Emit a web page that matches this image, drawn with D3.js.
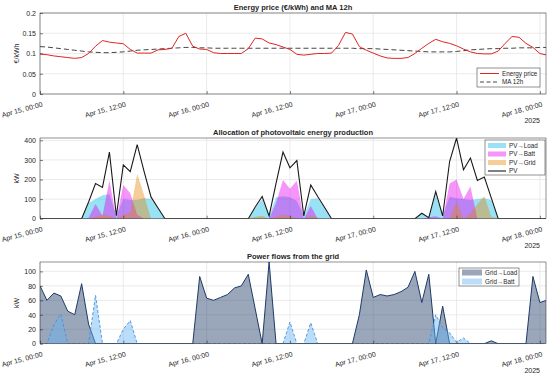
<!DOCTYPE html>
<html lang="en">
<head>
<meta charset="utf-8">
<title>Energy price, PV allocation and grid flows</title>
<script src="https://cdn.jsdelivr.net/npm/d3@7"></script>
<style>
  body { margin: 0; background: #fff; }
  svg text { font-family: "Liberation Sans", Arial, sans-serif; fill: #262626; }
</style>
</head>
<body>
<div id="chart"></div>
<script>
// hourly samples, index 0 = Apr 15 2025 00:00
var price = [.099,.097,.094,.092,.090,.088,.090,.100,.118,.132,.128,.126,.124,.110,.101,.101,.101,.109,.110,.113,
             .142,.150,.118,.111,.110,.102,.100,.100,.100,.100,.112,.138,.136,.126,.122,.116,.110,.098,.096,.098,
             .100,.100,.101,.120,.152,.148,.117,.108,.101,.094,.089,.088,.088,.090,.100,.113,.125,.135,.129,.125,
             .119,.111,.104,.100,.099,.099,.106,.125,.142,.140,.125,.115,.100,.096];
var ma12 = [.117,.116,.114,.112,.110,.108,.106,.104,.103,.102,.102,.103,.104,.106,.108,.109,.110,.111,.112,.113,
            .114,.115,.115,.114,.114,.113,.113,.113,.113,.113,.113,.113,.113,.113,.113,.113,.113,.113,.113,.113,
            .113,.113,.113,.113,.113,.113,.112,.112,.112,.111,.110,.109,.108,.107,.106,.105,.104,.104,.104,.104,
            .105,.107,.109,.110,.111,.112,.112,.113,.113,.114,.114,.114,.115,.115];

var pv = [0,0,0,0,0,0,0,85,180,160,340,15,275,240,378,240,110,55,0,0,
          0,0,0,0,0,0,0,0,0,0,0,60,113,14,180,340,260,297,14,172,
          113,57,0,0,0,0,0,0,0,0,0,0,0,0,0,28,5,138,14,292,
          412,250,310,195,213,106,0,0,0,0,0,0,0,0];
var pvLoad = [0,0,0,0,0,0,0,80,100,120,125,15,100,95,95,105,100,55,0,0,
              0,0,0,0,0,0,0,0,0,0,0,55,100,14,110,115,110,90,14,100,
              105,55,0,0,0,0,0,0,0,0,0,0,0,0,0,28,5,125,14,112,
              105,100,96,100,105,95,0,0,0,0,0,0,0,0];
var pvBatt = [0,0,0,0,0,0,0,5,75,15,195,0,172,130,20,0,0,0,0,0,
              0,0,0,0,0,0,0,0,0,0,0,0,0,0,80,198,153,194,0,65,
              0,0,0,0,0,0,0,0,0,0,0,0,0,0,0,0,8,12,0,180,
              200,100,165,0,0,0,0,0,0,0,0,0,0,0];
var pvGrid = [0,0,0,0,0,0,0,0,10,20,15,0,20,30,230,120,0,0,0,0,
              0,0,0,0,0,0,0,0,0,0,0,10,15,0,10,20,15,0,0,15,
              5,0,0,0,0,0,0,0,0,0,0,0,0,0,0,0,0,0,0,0,
              85,0,25,75,115,10,0,0,0,0,0,0,0,0];

var gridLoad = [80,60,70,66,45,40,83,27,0,0,0,0,0,0,0,0,0,0,0,0,
                0,0,0,93,63,60,64,68,77,80,96,48,0,113,0,0,0,0,0,0,
                0,0,0,0,0,0,40,102,64,68,66,68,72,78,100,57,96,0,52,0,
                0,0,0,0,0,4,0,0,0,0,0,93,57,60];
var gridBatt = [0,0,26,41,0,0,0,0,67,0,0,0,20,32,0,0,0,0,0,0,
                0,0,0,0,0,0,0,0,0,0,0,0,0,0,0,0,30,0,0,29,
                0,0,0,0,0,0,0,0,0,0,0,0,0,0,0,0,0,40,22,15,
                2,8,0,0,0,0,0,0,0,0,0,0,0,0];

var priceTicks = [0, 0.05, 0.1, 0.15, 0.2];
var pvTicks = [0, 100, 200, 300, 400];
var gridTicks = [0, 20, 40, 60, 80, 100];

var width = 550, height = 376;
var left = 40, right = 546;

var svg = d3.select("#chart").append("svg")
  .attr("width", width)
  .attr("height", height);

var t0 = new Date(2025, 3, 15, 0);
function hourDate(i) { return d3.timeHour.offset(t0, i); }

var x = d3.scaleTime()
  .domain([t0, d3.timeMinute.offset(t0, 72 * 60 + 53)])
  .range([left, right]);
var xTicks = d3.timeHour.every(12).range(t0, d3.timeMinute.offset(t0, 72 * 60 + 1));
var fmtX = d3.timeFormat("%b %d, %H:%M");

// set up one panel: grid, clip, returns y scale and a clipped group
function makePanel(id, top, bottom, yMax, yTicks) {
  var y = d3.scaleLinear().domain([0, yMax]).range([bottom, top]);
  var g = svg.append("g");
  svg.append("clipPath").attr("id", id)
    .append("rect").attr("x", left).attr("y", top)
    .attr("width", right - left).attr("height", bottom - top);

  g.selectAll(".gx").data(xTicks).enter().append("line")
    .attr("x1", function(d){ return x(d); }).attr("x2", function(d){ return x(d); })
    .attr("y1", top).attr("y2", bottom)
    .attr("stroke", "#e3e3e3").attr("stroke-width", 0.7);
  g.selectAll(".gy").data(yTicks).enter().append("line")
    .attr("x1", left).attr("x2", right)
    .attr("y1", function(d){ return y(d); }).attr("y2", function(d){ return y(d); })
    .attr("stroke", "#e3e3e3").attr("stroke-width", 0.7);

  var plot = g.append("g").attr("clip-path", "url(#" + id + ")");
  return { y: y, plot: plot, top: top, bottom: bottom, ticks: yTicks };
}

// axes, box, labels on top of the marks
function finishPanel(p, title, ylabel, yFmt) {
  var g = svg.append("g");
  var ya = g.append("g").attr("transform", "translate(" + left + ",0)")
    .call(d3.axisLeft(p.y).tickValues(p.ticks).tickSizeInner(-3).tickSizeOuter(0).tickPadding(4).tickFormat(yFmt));
  ya.select(".domain").remove();
  ya.selectAll("line").attr("stroke", "#262626").attr("stroke-width", 0.6);
  ya.selectAll("text").attr("font-size", "7px").attr("font-family", "Liberation Sans, Arial, sans-serif").attr("fill", "#262626");

  var xa = g.append("g").attr("transform", "translate(0," + p.bottom + ")")
    .call(d3.axisBottom(x).tickValues(xTicks).tickSizeInner(-3).tickSizeOuter(0).tickFormat(""));
  xa.select(".domain").remove();
  xa.selectAll("line").attr("stroke", "#262626").attr("stroke-width", 0.6);

  g.selectAll(".xl").data(xTicks).enter().append("text")
    .attr("transform", function(d){ return "translate(" + (x(d) + 3) + "," + (p.bottom + 12.5) + ") rotate(-15)"; })
    .attr("text-anchor", "end")
    .attr("font-size", "7px")
    .text(function(d){ return fmtX(d); });

  g.append("rect")
    .attr("x", left).attr("y", p.top)
    .attr("width", right - left).attr("height", p.bottom - p.top)
    .attr("fill", "none").attr("stroke", "#262626").attr("stroke-width", 0.5);

  g.append("text")
    .attr("x", (left + right) / 2).attr("y", p.top - 3)
    .attr("text-anchor", "middle")
    .attr("font-size", "7.5px").attr("font-weight", "bold")
    .text(title);

  g.append("text")
    .attr("transform", "translate(19," + ((p.top + p.bottom) / 2) + ") rotate(-90)")
    .attr("text-anchor", "middle")
    .attr("font-size", "7px")
    .text(ylabel);

  g.append("text")
    .attr("x", right - 6).attr("y", p.bottom + 29)
    .attr("text-anchor", "end")
    .attr("font-size", "7px")
    .text("2025");
}

function legend(x0, y0, w, h, items) {
  var g = svg.append("g");
  g.append("rect").attr("x", x0).attr("y", y0).attr("width", w).attr("height", h)
    .attr("fill", "#fff").attr("stroke", "#262626").attr("stroke-width", 0.5);
  items.forEach(function(it, i) {
    var cy = y0 + it.dy + i * it.step;
    if (it.kind === "line") {
      g.append("line").attr("x1", x0 + 3).attr("x2", x0 + it.sw).attr("y1", cy).attr("y2", cy)
        .attr("stroke", it.color).attr("stroke-width", it.width || 1)
        .attr("stroke-dasharray", it.dash || null);
    } else {
      g.append("rect").attr("x", x0 + 3).attr("y", cy - it.ph / 2).attr("width", it.sw - 3).attr("height", it.ph)
        .attr("fill", it.color).attr("fill-opacity", it.op)
        .attr("stroke", it.stroke || "none").attr("stroke-width", 0.6)
        .attr("stroke-dasharray", it.dash || null);
    }
    g.append("text").attr("x", x0 + it.sw + 3).attr("y", cy + 2.2)
      .attr("font-size", "6.3px").text(it.label);
  });
}

function lineGen(y) {
  return d3.line().x(function(d, i){ return x(hourDate(i)); }).y(function(d){ return y(d); });
}
function areaGen(y) {
  return d3.area().x(function(d, i){ return x(hourDate(i)); }).y0(y(0)).y1(function(d){ return y(d); });
}

// ---- panel 1: energy price
var p1 = makePanel("c1", 13, 94, 0.2, priceTicks);
p1.plot.append("path").datum(ma12)
  .attr("d", lineGen(p1.y)).attr("fill", "none")
  .attr("stroke", "#444").attr("stroke-width", 1).attr("stroke-dasharray", "5,3");
p1.plot.append("path").datum(price)
  .attr("d", lineGen(p1.y)).attr("fill", "none")
  .attr("stroke", "#e02424").attr("stroke-width", 1);
finishPanel(p1, "Energy price (\u20AC/kWh) and MA 12h", "\u20AC/kWh", d3.format("~g"));
legend(477, 68, 63, 19, [
  { kind: "line", label: "Energy price", color: "#e02424", sw: 22, dy: 5.5, step: 8.5 },
  { kind: "line", label: "MA 12h", color: "#444", dash: "4,2.5", sw: 22, dy: 5.5, step: 8.5 }
]);

// ---- panel 2: PV allocation
var p2 = makePanel("c2", 138, 218.7, d3.max(pv), pvTicks);
p2.plot.append("path").datum(pvLoad).attr("d", areaGen(p2.y))
  .attr("fill", "#00b4e6").attr("fill-opacity", 0.4);
p2.plot.append("path").datum(pvBatt).attr("d", areaGen(p2.y))
  .attr("fill", "#e600f0").attr("fill-opacity", 0.42);
p2.plot.append("path").datum(pvGrid).attr("d", areaGen(p2.y))
  .attr("fill", "#e68200").attr("fill-opacity", 0.4);
p2.plot.append("path").datum(pv).attr("d", lineGen(p2.y))
  .attr("fill", "none").attr("stroke", "#1a1a1a").attr("stroke-width", 1.1);
finishPanel(p2, "Allocation of photovoltaic energy production", "kW", d3.format("d"));
legend(485, 140, 60, 35, [
  { kind: "patch", label: "PV\u2192Load", color: "#00b4e6", op: 0.4, sw: 21, ph: 5, dy: 5.5, step: 8.5 },
  { kind: "patch", label: "PV\u2192Batt", color: "#e600f0", op: 0.42, sw: 21, ph: 5, dy: 5.5, step: 8.5 },
  { kind: "patch", label: "PV\u2192Grid", color: "#e68200", op: 0.4, sw: 21, ph: 5, dy: 5.5, step: 8.5 },
  { kind: "line", label: "PV", color: "#1a1a1a", width: 1.1, sw: 21, dy: 5.5, step: 8.5 }
]);

// ---- panel 3: grid flows
var p3 = makePanel("c3", 262, 343.7, d3.max(gridLoad), gridTicks);
p3.plot.append("path").datum(gridLoad).attr("d", areaGen(p3.y))
  .attr("fill", "#1f3a66").attr("fill-opacity", 0.45);
p3.plot.append("path").datum(gridLoad).attr("d", lineGen(p3.y))
  .attr("fill", "none").attr("stroke", "#1f3a66").attr("stroke-width", 1);
p3.plot.append("path").datum(gridBatt).attr("d", areaGen(p3.y))
  .attr("fill", "#66b4f5").attr("fill-opacity", 0.45);
p3.plot.append("path").datum(gridBatt).attr("d", lineGen(p3.y))
  .attr("fill", "none").attr("stroke", "#4a90d9").attr("stroke-width", 0.9).attr("stroke-dasharray", "3,2");
finishPanel(p3, "Power flows from the grid", "kW", d3.format("d"));
legend(459, 268, 60, 18, [
  { kind: "patch", label: "Grid\u2192Load", color: "#1f3a66", op: 0.45, sw: 23, ph: 6, dy: 4.5, step: 9 },
  { kind: "patch", label: "Grid\u2192Batt", color: "#66b4f5", op: 0.45, sw: 23, ph: 6, dy: 4.5, step: 9 }
]);
</script>
</body>
</html>
